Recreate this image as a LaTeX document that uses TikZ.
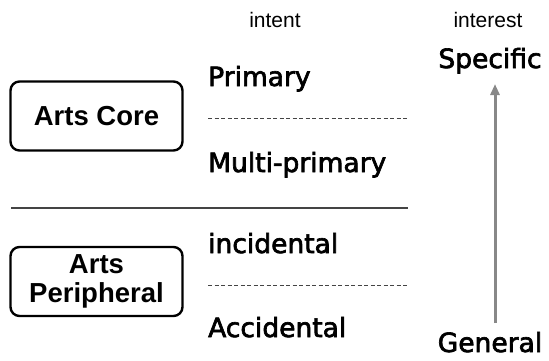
\documentclass[tikz,border=0pt]{standalone}
\usepackage{fontspec}
\setmainfont{Liberation Sans}
\newfontfamily\dvfont[FakeBold=2.5]{DejaVu Sans}
\usetikzlibrary{arrows.meta}
\definecolor{linegray}{HTML}{444444}
\definecolor{arrowgray}{HTML}{888888}
\tikzset{
  artsbox/.style={draw=black, line width=2.4pt, rounded corners=9pt,
    minimum width=172pt, minimum height=69pt, align=center, inner sep=0pt,
    font=\fontsize{27.5}{28}\bfseries\selectfont},
  levellabel/.style={anchor=base west, inner sep=0pt, font=\dvfont\fontsize{26.5}{32}\selectfont},
  scalelabel/.style={anchor=base, inner sep=0pt, font=\dvfont\fontsize{26.5}{32}\selectfont},
  headlabel/.style={anchor=base, inner sep=0pt, font=\fontsize{21}{24}\selectfont},
  dashline/.style={draw=linegray, line width=0.8pt, dash pattern=on 4pt off 2.5pt},
  solidline/.style={draw=linegray, line width=1.5pt},
  scalearrow/.style={draw=arrowgray, line width=3pt, -{Triangle[width=9pt,length=11pt]}}
}
\begin{document}
\begin{tikzpicture}[x=1pt,y=-1pt]
\useasboundingbox (0,0) rectangle (549,360);
% headers
\node[headlabel] (intent) at (275,27) {intent};
\node[headlabel] (interest) at (488,27) {interest};
% boxes
\node[artsbox] (core) at (96.5,116) {Arts Core};
\node[artsbox] (periph) at (96.5,281.5) {Arts\\[1pt]Peripheral};
% levels
\node[levellabel] (primary) at (208,86) {Primary};
\node[levellabel] (multi) at (208,172) {Multi-primary};
\node[levellabel] (incid) at (208,253) {incidental};
\node[levellabel] (accid) at (208,337) {Accidental};
% scale ends
\node[scalelabel] (spec) at (490,68) {Specific};
\node[scalelabel] (gen) at (490,352) {General};
% lines
\coordinate (d1a) at (208,118);
\coordinate (d1b) at (408,118);
\coordinate (d2a) at (208,285);
\coordinate (d2b) at (408,285);
\coordinate (sa) at (11,208);
\coordinate (sb) at (408,208);
\draw[dashline] (d1a) -- (d1b);
\draw[dashline] (d2a) -- (d2b);
\draw[solidline] (sa) -- (sb);
% arrow
\coordinate (abot) at (495,323);
\coordinate (atop) at (495,84);
\draw[scalearrow] (abot) -- (atop);
\end{tikzpicture}
\end{document}
